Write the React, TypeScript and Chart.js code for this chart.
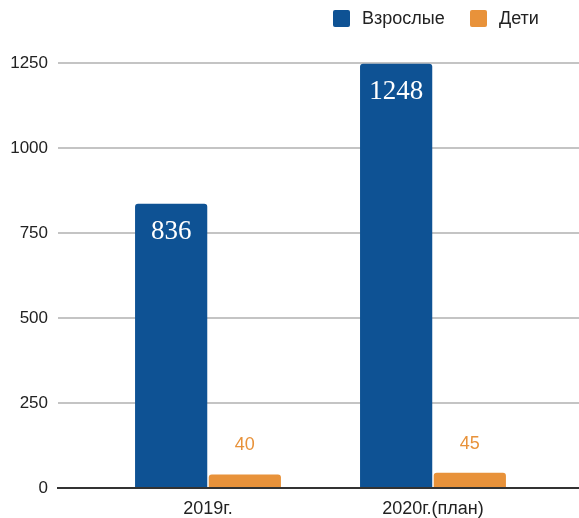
import React, { useEffect, useRef } from "react";
import { Chart, registerables } from "chart.js";

Chart.register(...registerables);

const categories = ["2019г.", "2020г.(план)"];
const adults = [836, 1248];
const children = [40, 45];
const seriesNames = ["Взрослые", "Дети"];
const yTicks = [0, 250, 500, 750, 1000, 1250];

const BLUE = "#0e5294";
const ORANGE = "#e8923a";
const SANS = '"Liberation Sans", Arial, sans-serif';

const labelPlugin = {
  id: "barLabels",
  afterDatasetsDraw(chart: any) {
    const ctx = chart.ctx;
    ctx.save();
    const m0 = chart.getDatasetMeta(0);
    m0.data.forEach((bar: any, i: number) => {
      ctx.font = '27px "Liberation Serif", "DejaVu Serif", serif';
      ctx.fillStyle = "#ffffff";
      ctx.textAlign = "center";
      ctx.textBaseline = "middle";
      ctx.fillText(String(adults[i]), bar.x, bar.y + 28);
    });
    const m1 = chart.getDatasetMeta(1);
    m1.data.forEach((bar: any, i: number) => {
      ctx.font = "18px " + SANS;
      ctx.textAlign = "center";
      ctx.textBaseline = "middle";
      ctx.lineWidth = 3;
      ctx.strokeStyle = "#ffffff";
      ctx.lineJoin = "round";
      ctx.strokeText(String(children[i]), bar.x, bar.y - 29);
      ctx.fillStyle = ORANGE;
      ctx.fillText(String(children[i]), bar.x, bar.y - 29);
    });
    ctx.restore();
  },
};

const legendPlugin = {
  id: "customLegend",
  afterDraw(chart: any) {
    const ctx = chart.ctx;
    ctx.save();
    const items = [
      { name: seriesNames[0], color: BLUE, x: 333 },
      { name: seriesNames[1], color: ORANGE, x: 470 },
    ];
    items.forEach((it) => {
      ctx.fillStyle = it.color;
      ctx.beginPath();
      (ctx as any).roundRect(it.x, 10, 17, 17, 2);
      ctx.fill();
      ctx.fillStyle = "#222";
      ctx.font = "18px " + SANS;
      ctx.textAlign = "left";
      ctx.textBaseline = "middle";
      ctx.fillText(it.name, it.x + 29, 19);
    });
    ctx.restore();
  },
};

export default function App() {
  const ref = useRef<HTMLCanvasElement | null>(null);
  useEffect(() => {
    if (!ref.current) return;
    const chart = new Chart(ref.current, {
      type: "bar",
      data: {
        datasets: [
          {
            label: seriesNames[0],
            data: adults.map((v, i) => ({ x: i, y: v })),
            backgroundColor: BLUE,
            borderRadius: 3,
            categoryPercentage: 0.655,
            barPercentage: 0.98,
          },
          {
            label: seriesNames[1],
            data: children.map((v, i) => ({ x: i, y: v })),
            backgroundColor: ORANGE,
            borderRadius: 3,
            categoryPercentage: 0.655,
            barPercentage: 0.98,
          },
        ],
      },
      plugins: [labelPlugin, legendPlugin],
      options: {
        animation: false,
        responsive: false,
        layout: { padding: { top: 63, left: 0, right: 0, bottom: 0 } },
        plugins: {
          tooltip: { enabled: false },
          legend: { display: false },
        },
        scales: {
          x: {
            type: "linear",
            offset: false,
            min: -0.6667,
            max: 1.649,
            grid: { display: false, drawTicks: false, offset: false },
            border: { display: true, color: "#333", width: 2 },
            afterBuildTicks: (scale: any) => {
              scale.ticks = categories.map((_, i) => ({ value: i }));
            },
            afterFit: (scale: any) => {
              scale.height = 30;
            },
            ticks: {
              padding: 10,
              color: "#222",
              font: { family: SANS, size: 18 },
              callback: (v: any) => categories[Math.round(Number(v))] ?? "",
            },
          },
          y: {
            min: 0,
            max: 1250,
            afterBuildTicks: (scale: any) => {
              scale.ticks = yTicks.map((v) => ({ value: v }));
            },
            afterFit: (scale: any) => {
              scale.width = 58;
            },
            grid: { color: "#c4c4c4", lineWidth: 2, drawTicks: false },
            border: { display: false },
            ticks: {
              padding: 10,
              color: "#222",
              font: { family: SANS, size: 17 },
              callback: (v: any) => String(v),
            },
          },
        },
      },
    } as any);
    return () => chart.destroy();
  }, []);
  return (
    <div style={{ position: "fixed", left: 0, top: 0, width: 579, height: 518, background: "#fff" }}>
      <canvas ref={ref} width={579} height={518} style={{ width: 579, height: 518 }} />
    </div>
  );
}
